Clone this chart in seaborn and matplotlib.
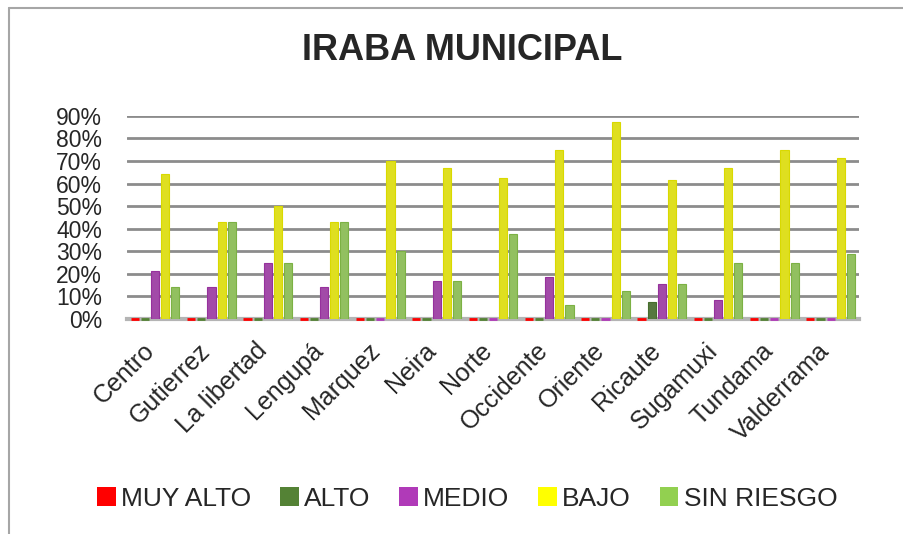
import pandas as pd
import numpy as np
import matplotlib
matplotlib.use('Agg')
import matplotlib.pyplot as plt
import matplotlib.colors as mcolors
import matplotlib.transforms as mtransforms
from matplotlib.lines import Line2D
from matplotlib.patches import Patch
import seaborn as sns

municipios = ['Centro', 'Gutierrez', 'La libertad', 'Lengupá', 'Marquez', 'Neira',
              'Norte', 'Occidente', 'Oriente', 'Ricaute', 'Sugamuxi', 'Tundama',
              'Valderrama']
niveles = ['MUY ALTO', 'ALTO', 'MEDIO', 'BAJO', 'SIN RIESGO']

muy_alto = [0, 0, 0, 0, 0, 0, 0, 0, 0, 0, 0, 0, 0]
alto = [0, 0, 0, 0, 0, 0, 0, 0, 0, 0.077, 0, 0, 0]
medio = [0.214, 0.143, 0.25, 0.143, 0, 0.167, 0, 0.188, 0, 0.154, 0.083, 0, 0]
bajo = [0.643, 0.429, 0.50, 0.429, 0.70, 0.667, 0.625, 0.75, 0.875, 0.615, 0.667, 0.75, 0.714]
sin_riesgo = [0.143, 0.429, 0.25, 0.429, 0.30, 0.167, 0.375, 0.063, 0.125, 0.154, 0.25, 0.25, 0.286]

colores = ['#FF0000', '#548235', '#B03AB8', '#FFFF00', '#92D050']

df = pd.DataFrame({'municipio': municipios, 'MUY ALTO': muy_alto, 'ALTO': alto,
                   'MEDIO': medio, 'BAJO': bajo, 'SIN RIESGO': sin_riesgo})
df = df.melt(id_vars='municipio', var_name='nivel', value_name='valor')

sns.set_style('white')
plt.rcParams['font.family'] = ['Liberation Sans', 'DejaVu Sans']

fig = plt.figure(figsize=(9.04, 5.34), dpi=100)
ax = fig.add_axes([0.1405, 0.4026, 0.8095, 0.3804])

sns.barplot(data=df, x='municipio', y='valor', hue='nivel', hue_order=niveles,
            order=municipios, palette=colores, width=0.9, gap=0.2,
            legend=False, ax=ax)

# thin darker outline on every bar; zero bars show as short dashes on the floor
for i, cont in enumerate(ax.containers):
    dark = tuple(c * 0.85 for c in mcolors.to_rgb(colores[i]))
    for p in cont:
        p.set_edgecolor(dark)
        p.set_linewidth(0.8)
        p.set_zorder(3)
        if p.get_height() == 0:
            p.set_edgecolor(colores[i])
            p.set_linewidth(2)
            p.set_clip_on(False)

ax.set_ylim(0, 0.9)
ax.set_xlim(-0.5, len(municipios) - 0.5)
ax.set_yticks(np.arange(0, 0.91, 0.1))
ax.set_yticklabels([f'{int(round(v * 100))}%' for v in np.arange(0, 0.91, 0.1)], fontsize=16.5)
ax.tick_params(axis='y', length=0, pad=18)
ax.tick_params(axis='x', length=0, pad=14)
ax.set_xticks(range(len(municipios)))
ax.set_xticklabels(municipios, rotation=45, ha='right', rotation_mode='anchor', fontsize=18)
shift = mtransforms.ScaledTranslation(-0.13, 0, fig.dpi_scale_trans)
for lbl in ax.get_xticklabels():
    lbl.set_transform(lbl.get_transform() + shift)
ax.set_xlabel('')
ax.set_ylabel('')

ax.yaxis.grid(True, color='#8C8C8C', linewidth=2)
ax.set_axisbelow(True)
for s in ['top', 'right', 'left']:
    ax.spines[s].set_visible(False)
ax.spines['bottom'].set_color('#B4B4B4')
ax.spines['bottom'].set_linewidth(3)
ax.spines['bottom'].set_zorder(2)

fig.text(0.511, 0.905, 'IRABA MUNICIPAL', ha='center', va='center',
         fontsize=26, fontweight='bold')

handles = [Patch(facecolor=c, edgecolor='none') for c in colores]
fig.legend(handles, niveles, loc='center', bbox_to_anchor=(0.517, 0.066), ncol=5,
           frameon=False, fontsize=19, handlelength=0.7, handleheight=0.7,
           handletextpad=0.2, columnspacing=1.1)

# chart frame (top and left edges visible in the crop)
fig.add_artist(Line2D([0.0100, 0.0100], [0.0, 0.985], transform=fig.transFigure,
                      color='#A6A6A6', linewidth=1.5))
fig.add_artist(Line2D([0.0100, 1.0], [0.985, 0.985], transform=fig.transFigure,
                      color='#A6A6A6', linewidth=1.5))

plt.savefig('out.png', dpi=100)
plt.close()
